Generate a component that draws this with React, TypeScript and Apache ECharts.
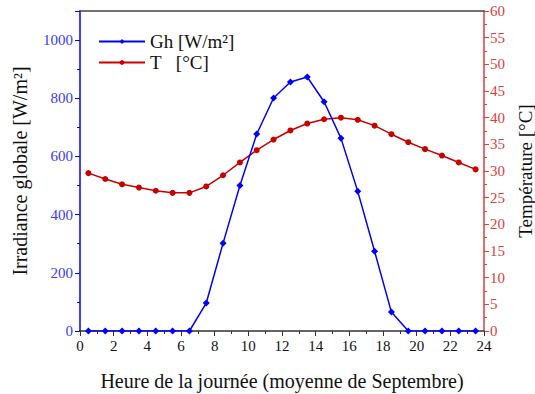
import React, { useEffect, useRef } from "react";
import * as echarts from "echarts";

const hours = [0.5, 1.5, 2.5, 3.5, 4.5, 5.5, 6.5, 7.5, 8.5, 9.5, 10.5, 11.5, 12.5, 13.5, 14.5, 15.5, 16.5, 17.5, 18.5, 19.5, 20.5, 21.5, 22.5, 23.5];
const irradiance = [0, 0, 0, 0, 0, 0, 0, 96, 302, 500, 677, 801, 856, 873, 788, 663, 480, 274, 65, 0, 0, 0, 0, 0];
const temperature = [29.6, 28.5, 27.5, 26.9, 26.3, 25.9, 25.9, 27.1, 29.2, 31.6, 33.9, 35.9, 37.6, 38.9, 39.7, 40.0, 39.6, 38.5, 36.9, 35.4, 34.1, 32.9, 31.6, 30.3];
const seriesNames = ["Gh [W/m²]", "T\u00a0\u00a0\u00a0[°C]"];
const xName = "Heure de la journée (moyenne de Septembre)";
const yLeftName = "Irradiance globale [W/m²]";
const yRightName = "Température [°C]";

const FONT = "Liberation Serif";
const BLUE = "#0000ff";
const RED = "#c80000";
const RED_AXIS = "#e03c3c";

const lbl = (color: string) => ({
  fontFamily: FONT,
  fontSize: 15,
  color,
  formatter: (v: number) => String(v),
});

export default function App() {
  const ref = useRef<HTMLDivElement>(null);
  useEffect(() => {
    if (!ref.current) return;
    const chart = echarts.init(ref.current, null, { renderer: "svg" });
    chart.setOption({
      animation: false,
      backgroundColor: "#ffffff",
      textStyle: { fontFamily: FONT },
      grid: { left: 80, right: 51, top: 11, bottom: 63, containLabel: false, outerBoundsMode: "none" },
      legend: {
        orient: "vertical",
        left: 93,
        top: 27,
        itemWidth: 46,
        itemHeight: 6,
        itemGap: 2,
        textStyle: { fontFamily: FONT, fontSize: 19, color: "#111" },
        data: seriesNames,
      },
      xAxis: [
        {
          type: "value",
          min: 0,
          max: 24,
          interval: 2,
          name: xName,
          nameLocation: "middle",
          nameGap: 40,
          nameTextStyle: { fontFamily: FONT, fontSize: 20, color: "#111" },
          axisLine: { onZero: false, lineStyle: { color: "#333", width: 1.5 } },
          axisTick: { inside: false, length: 5, lineStyle: { color: "#333" } },
          minorTick: { show: true, splitNumber: 2, length: 3, lineStyle: { color: "#333" } },
          axisLabel: { ...lbl("#111"), margin: 7 },
          splitLine: { show: false },
        },
        {
          type: "value",
          position: "top",
          min: 0,
          max: 24,
          axisLine: { onZero: false, lineStyle: { color: "#444", width: 1.5 } },
          axisTick: { show: false },
          axisLabel: { show: false },
          splitLine: { show: false },
        },
      ],
      yAxis: [
        {
          type: "value",
          min: 0,
          max: 1100,
          interval: 200,
          name: yLeftName,
          nameLocation: "middle",
          nameGap: 50,
          nameTextStyle: { fontFamily: FONT, fontSize: 20, color: "#111" },
          axisLine: { show: true, onZero: false, lineStyle: { color: BLUE, width: 1.5 } },
          axisTick: { show: true, length: 5, lineStyle: { color: BLUE } },
          minorTick: { show: true, splitNumber: 2, length: 3, lineStyle: { color: BLUE } },
          axisLabel: { ...lbl("#3a3aff"), margin: 7, showMaxLabel: false },
          splitLine: { show: false },
        },
        {
          type: "value",
          min: 0,
          max: 60,
          interval: 5,
          position: "right",
          name: yRightName,
          nameLocation: "middle",
          nameGap: 28,
          nameRotate: 90,
          nameTextStyle: { fontFamily: FONT, fontSize: 19, color: "#111" },
          axisLine: { show: true, onZero: false, lineStyle: { color: RED_AXIS, width: 1.5 } },
          axisTick: { show: true, length: 5, lineStyle: { color: RED_AXIS } },
          minorTick: { show: true, splitNumber: 2, length: 3, lineStyle: { color: RED_AXIS } },
          axisLabel: { ...lbl(RED_AXIS), margin: 6 },
          splitLine: { show: false },
        },
      ],
      series: [
        {
          name: seriesNames[0],
          type: "line",
          xAxisIndex: 0,
          yAxisIndex: 0,
          data: hours.map((h, i) => [h, irradiance[i]]),
          symbol: "diamond",
          symbolSize: 7,
          lineStyle: { color: BLUE, width: 1.5 },
          itemStyle: { color: BLUE },
          z: 3,
        },
        {
          name: seriesNames[1],
          type: "line",
          xAxisIndex: 0,
          yAxisIndex: 1,
          data: hours.map((h, i) => [h, temperature[i]]),
          symbol: "circle",
          symbolSize: 6,
          lineStyle: { color: RED, width: 1.5 },
          itemStyle: { color: RED },
          z: 2,
        },
      ],
    });
    return () => chart.dispose();
  }, []);
  return <div ref={ref} style={{ width: 535, height: 394, position: "absolute", left: 0, top: 0 }} />;
}
